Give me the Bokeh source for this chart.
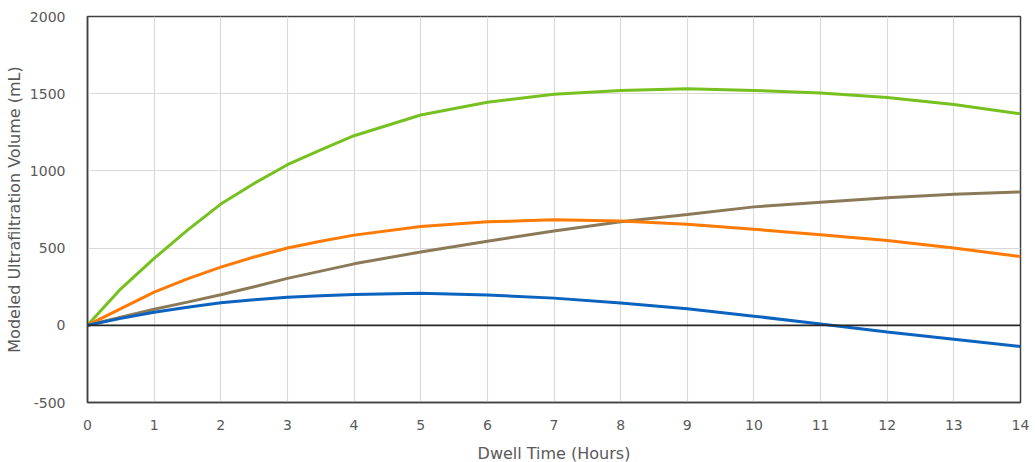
from bokeh.plotting import figure
from bokeh.models import Range1d, FixedTicker, Span
from bokeh.embed import file_html
from bokeh.resources import INLINE

hours = [0, 0.5, 1, 1.5, 2, 2.5, 3, 3.5, 4, 5, 6, 7, 8, 9, 10, 11, 12, 13, 14]
green = [0, 236, 433, 616, 785, 919, 1040, 1136, 1228, 1362, 1445, 1497, 1520, 1532, 1521, 1505, 1475, 1430, 1370]
orange = [0, 108, 215, 301, 377, 442, 501, 544, 584, 640, 670, 683, 675, 654, 622, 587, 549, 500, 445]
brown = [0, 52, 104, 150, 198, 250, 304, 351, 398, 475, 544, 611, 670, 717, 767, 797, 826, 849, 864]
blue = [0, 45, 84, 117, 146, 165, 182, 192, 199, 207, 197, 176, 145, 107, 59, 9, -43, -90, -137]

x_ticks = list(range(0, 15))
y_ticks = [-500, 0, 500, 1000, 1500, 2000]

FONT = "DejaVu Sans"
TXT = "#595959"

p = figure(frame_width=933, frame_height=386, width=1033, height=460,
           output_backend="svg", toolbar_location=None,
           x_range=Range1d(0, 14), y_range=Range1d(-500, 2000),
           min_border_left=87, min_border_top=16, min_border_right=10, min_border_bottom=10)

p.outline_line_color = "#404040"
p.outline_line_width = 1.5
p.background_fill_color = "white"
p.border_fill_color = "white"

p.xgrid.grid_line_color = "#d9d9d9"
p.ygrid.grid_line_color = "#d9d9d9"
p.xgrid.grid_line_width = 1.2
p.ygrid.grid_line_width = 1.2
p.xaxis.ticker = FixedTicker(ticks=x_ticks)
p.yaxis.ticker = FixedTicker(ticks=y_ticks)
p.yaxis.major_label_overrides = {t: str(t) for t in y_ticks}

for ax in (p.xaxis[0], p.yaxis[0]):
    ax.major_tick_line_color = None
    ax.minor_tick_line_color = None
    ax.axis_line_color = "#404040"
    ax.axis_line_width = 1.5
    ax.major_label_text_font = FONT
    ax.major_label_text_font_size = "14px"
    ax.major_label_text_color = TXT
    ax.axis_label_text_font = FONT
    ax.axis_label_text_font_size = "16px"
    ax.axis_label_text_font_style = "normal"
    ax.axis_label_text_color = TXT

p.xaxis.axis_label = "Dwell Time (Hours)"
p.yaxis.axis_label = "Modeled Ultrafiltration Volume (mL)"
p.xaxis.major_label_standoff = 11
p.yaxis.major_label_standoff = 16
p.xaxis.axis_label_standoff = 11
p.yaxis.axis_label_standoff = 3

zero = Span(location=0, dimension="width", line_color="#262626", line_width=1.8)
p.add_layout(zero)

p.line(hours, green, line_color="#76C11F", line_width=3)
p.line(hours, brown, line_color="#8A7A57", line_width=3)
p.line(hours, orange, line_color="#FF7A05", line_width=3)
p.line(hours, blue, line_color="#0B63BF", line_width=3)

open("out.html", "w").write(file_html(p, INLINE))
